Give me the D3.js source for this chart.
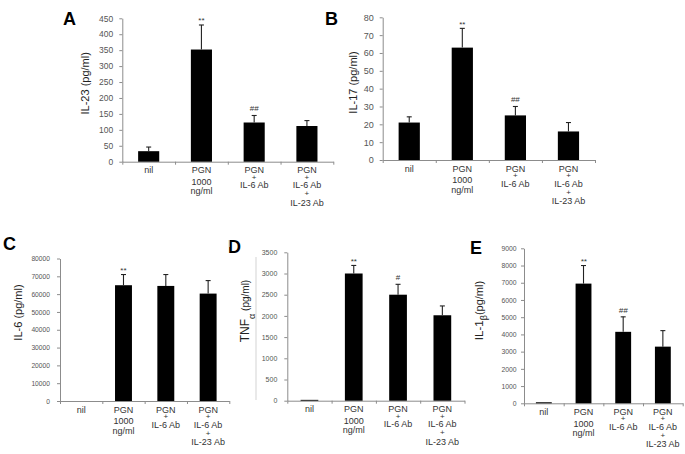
<!DOCTYPE html>
<html><head><meta charset="utf-8">
<script src="https://cdn.jsdelivr.net/npm/d3@7"></script>
<style>
html,body{margin:0;padding:0;background:#fff;}
svg{display:block;font-family:"Liberation Sans",Arial,sans-serif;}
</style></head>
<body>
<svg id="chart" width="685" height="454"></svg>
<script>
// ---------- data ----------
const categories = [
  ["nil"],
  ["PGN", "1000", "ng/ml"],
  ["PGN", "+", "IL-6 Ab"],
  ["PGN", "+", "IL-6 Ab", "+", "IL-23 Ab"]
];
const il23Values = [33, 352, 123, 112];
const il23Errors = [13, 77, 22, 17];
const il23Marks  = ["", "**", "##", ""];
const il23Ticks  = [0, 50, 100, 150, 200, 250, 300, 350, 400, 450];

const il17Values = [21, 63, 25, 16];
const il17Errors = [3.2, 10.8, 5, 5];
const il17Marks  = ["", "**", "##", ""];
const il17Ticks  = [0, 10, 20, 30, 40, 50, 60, 70, 80];

const il6Values = [0, 65000, 64600, 60300];
const il6Errors = [0, 6000, 6400, 7300];
const il6Marks  = ["", "**", "", ""];
const il6Ticks  = [0, 10000, 20000, 30000, 40000, 50000, 60000, 70000, 80000];

const tnfValues = [20, 3000, 2500, 2015];
const tnfErrors = [0, 190, 245, 220];
const tnfMarks  = ["", "**", "#", ""];
const tnfTicks  = [0, 500, 1000, 1500, 2000, 2500, 3000, 3500];

const il1bValues = [60, 6950, 4150, 3290];
const il1bErrors = [0, 1050, 870, 930];
const il1bMarks  = ["", "**", "##", ""];
const il1bTicks  = [0, 1000, 2000, 3000, 4000, 5000, 6000, 7000, 8000, 9000];

// ---------- layout ----------
const svg = d3.select("#chart");
const AXIS = "#8c8c8c";
// line gaps below the axis, per category (first baseline, then increments)
const lineGaps = [
  [11.6],
  [11.6, 11.6, 9.3],
  [11.6, 6.4, 8.5],
  [11.6, 6.4, 8.5, 8.1, 9.2]
];

function panel(cfg) {
  const g = svg.append("g");
  const n = cfg.values.length;
  const x = d3.scaleBand().domain(d3.range(n)).range([cfg.x0, cfg.x1])
    .paddingInner(0.6).paddingOuter(0.3);
  const xb = d3.scaleLinear().domain([0, n]).range([cfg.x0, cfg.x1]);
  const y = d3.scaleLinear().domain([0, cfg.ticks[cfg.ticks.length - 1]]).range([cfg.y0, cfg.yTop]);

  // y axis
  const ya = g.append("g").attr("transform", `translate(${cfg.x0},0)`)
    .call(d3.axisLeft(y).tickValues(cfg.ticks).tickSize(3).tickSizeOuter(0)
      .tickPadding(cfg.tickPad).tickFormat(d3.format("d")));
  ya.select(".domain").attr("stroke", AXIS);
  ya.selectAll(".tick line").attr("stroke", AXIS);
  ya.selectAll(".tick text").attr("fill", "#555").style("font-size", cfg.tickFont + "px")
    .style("font-family", '"Liberation Sans",Arial,sans-serif');

  // x axis (category boundaries)
  const xa = g.append("g").attr("transform", `translate(0,${cfg.y0})`)
    .call(d3.axisBottom(xb).tickValues(d3.range(n + 1)).tickSize(3).tickSizeOuter(0).tickFormat(""));
  xa.select(".domain").attr("stroke", AXIS);
  xa.selectAll(".tick line").attr("stroke", AXIS);

  // bars
  g.selectAll("rect.bar").data(cfg.values).join("rect")
    .attr("x", (d, i) => x(i)).attr("width", x.bandwidth())
    .attr("y", d => y(d)).attr("height", d => cfg.y0 - y(d))
    .attr("fill", "#000");

  // error bars
  const eb = g.selectAll("g.err").data(cfg.values.map((v, i) => ({v, e: cfg.errors[i], i})))
    .join("g").filter(d => d.e > 0);
  eb.append("line")
    .attr("x1", d => x(d.i) + x.bandwidth() / 2).attr("x2", d => x(d.i) + x.bandwidth() / 2)
    .attr("y1", d => y(d.v)).attr("y2", d => y(d.v + d.e))
    .attr("stroke", "#222").attr("stroke-width", 1.1);
  eb.append("line")
    .attr("x1", d => x(d.i) + x.bandwidth() / 2 - 2.5).attr("x2", d => x(d.i) + x.bandwidth() / 2 + 2.5)
    .attr("y1", d => y(d.v + d.e)).attr("y2", d => y(d.v + d.e))
    .attr("stroke", "#222").attr("stroke-width", 1.1);

  // significance marks
  g.selectAll("text.mark").data(cfg.values.map((v, i) => ({v, e: cfg.errors[i], m: cfg.marks[i], i})))
    .join("text").filter(d => d.m)
    .attr("x", d => x(d.i) + x.bandwidth() / 2)
    .attr("y", d => y(d.v + d.e) - (d.m.startsWith("*") ? 1.5 : 4))
    .attr("text-anchor", "middle").attr("fill", "#333")
    .style("font-size", "8px")
    .style("font-style", cfg.italicMarks ? "italic" : "normal")
    .text(d => d.m);

  // category labels (one text element per category, lines as tspans)
  categories.forEach((lines, i) => {
    const cx = x(i) + x.bandwidth() / 2;
    const t = g.append("text").attr("x", cx).attr("y", cfg.y0)
      .attr("text-anchor", "middle").attr("fill", "#333").style("font-size", "9px");
    lines.forEach((s, k) => {
      t.append("tspan").attr("x", cx).attr("dy", lineGaps[i][k])
        .style("font-size", s === "+" ? "8px" : "9px").text(s);
    });
  });

  // y label
  const yl = g.append("text")
    .attr("transform", `translate(${cfg.labelX},${cfg.labelY}) rotate(-90)`)
    .attr("text-anchor", "middle").attr("fill", "#222");
  cfg.label.forEach(p => {
    yl.append("tspan").attr("dy", p.dy || 0).style("font-size", p.size + "px").text(p.t);
  });

  // panel letter
  g.append("text").attr("x", cfg.letterX).attr("y", cfg.letterY)
    .style("font-size", "18px").style("font-weight", "bold").attr("fill", "#000")
    .text(cfg.letter);
}

panel({letter: "A", letterX: 63, letterY: 24.5,
  values: il23Values, errors: il23Errors, marks: il23Marks, ticks: il23Ticks,
  x0: 122.3, x1: 333.3, y0: 161.7, yTop: 18.3, tickFont: 8.5, tickPad: 6,
  labelX: 88.5, labelY: 83.3, label: [{t: "IL-23 (pg/ml)", size: 11}]});

panel({letter: "B", letterX: 325, letterY: 24.5,
  values: il17Values, errors: il17Errors, marks: il17Marks, ticks: il17Ticks,
  x0: 382.7, x1: 595, y0: 160, yTop: 17.3, tickFont: 9, tickPad: 6,
  labelX: 356.8, labelY: 82.5, label: [{t: "IL-17 (pg/ml)", size: 11}]});

panel({letter: "C", letterX: 3, letterY: 250,
  values: il6Values, errors: il6Errors, marks: il6Marks, ticks: il6Ticks,
  x0: 60, x1: 229.3, y0: 401, yTop: 258.5, tickFont: 6.7, tickPad: 7,
  labelX: 21.5, labelY: 312.5, label: [{t: "IL-6 (pg/ml)", size: 11}]});

panel({letter: "D", letterX: 228, letterY: 253,
  values: tnfValues, errors: tnfErrors, marks: tnfMarks, ticks: tnfTicks,
  x0: 287.3, x1: 464.5, y0: 400.7, yTop: 252.3, tickFont: 7, tickPad: 7,
  labelX: 249, labelY: 311,
  label: [{t: "TNF", size: 12}, {t: "\u03b1", size: 9, dy: 6}, {t: " (pg/ml)", size: 10, dy: -6}]});

panel({letter: "E", letterX: 470, letterY: 254, italicMarks: true,
  values: il1bValues, errors: il1bErrors, marks: il1bMarks, ticks: il1bTicks,
  x0: 524, x1: 682.7, y0: 403.3, yTop: 248.3, tickFont: 6.8, tickPad: 4.5,
  labelX: 483.3, labelY: 310.5,
  label: [{t: "IL-1", size: 11.5}, {t: "\u03b2", size: 9, dy: 4}, {t: "(pg/ml)", size: 11, dy: -4}]});

// faint frame remnant lines
svg.append("line").attr("x1", 256).attr("x2", 256).attr("y1", 257).attr("y2", 400)
  .attr("stroke", "#c8c8c8").attr("stroke-width", 0.8);
svg.append("line").attr("x1", 229.3).attr("x2", 229.3).attr("y1", 240).attr("y2", 247)
  .attr("stroke", "#c8c8c8").attr("stroke-width", 0.8);
</script>
</body></html>
